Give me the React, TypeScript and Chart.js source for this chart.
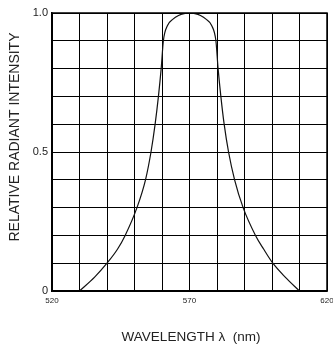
import { useEffect, useRef } from "react";
import { Chart, registerables } from "chart.js";

Chart.register(...registerables);

// Spectral response curve: wavelength (nm) vs relative radiant intensity
const wavelengthNm = [
  530, 535.5, 540, 543.8, 546.6, 550.9, 554.0, 556.0, 557.5, 558.7, 559.7, 560.5,
  562, 564, 566, 568, 570, 572, 574, 576, 578,
  579.6, 580.4, 581.4, 582.6, 584.2, 586.4, 589.5, 594.0, 597.0, 600.3, 604.8, 610,
];
const relativeIntensity = [
  0, 0.05, 0.1, 0.15, 0.2, 0.3, 0.4, 0.5, 0.6, 0.7, 0.8, 0.9,
  0.955, 0.978, 0.991, 0.998, 1.0, 0.998, 0.991, 0.978, 0.956,
  0.9, 0.8, 0.7, 0.6, 0.5, 0.4, 0.3, 0.2, 0.15, 0.1, 0.05, 0,
];

const xLabelled = [520, 570, 620];
const yLabelled = [
  { v: 0, text: "0" },
  { v: 0.5, text: "0.5" },
  { v: 1, text: "1.0" },
];

const yTitle = "RELATIVE RADIANT INTENSITY";
const xTitle = "WAVELENGTH \u03bb  (nm)";

const FONT = "Arial, 'Liberation Sans', Helvetica, sans-serif";
const INK = "#222";

const titlesPlugin = {
  id: "axisTitles",
  afterDraw(chart: any) {
    const { ctx, chartArea } = chart;
    ctx.save();
    // frame around the plot
    ctx.strokeStyle = "#000";
    ctx.lineWidth = 1.5;
    ctx.strokeRect(chartArea.left, chartArea.top, chartArea.right - chartArea.left, chartArea.bottom - chartArea.top);

    ctx.fillStyle = INK;
    ctx.font = `14px ${FONT}`;
    ctx.textAlign = "center";
    ctx.textBaseline = "middle";
    ctx.save();
    ctx.translate(15, 137);
    ctx.rotate(-Math.PI / 2);
    ctx.fillText(yTitle, 0, 0);
    ctx.restore();
    ctx.font = `13.5px ${FONT}`;
    ctx.fillText(xTitle, 191, 337);
    ctx.restore();
  },
};

export default function App() {
  const canvasRef = useRef<HTMLCanvasElement | null>(null);

  useEffect(() => {
    const canvas = canvasRef.current;
    if (!canvas) return;
    const chart = new Chart(canvas, {
      type: "line",
      data: {
        datasets: [
          {
            data: wavelengthNm.map((x, i) => ({ x, y: relativeIntensity[i] })),
            borderColor: "#111",
            borderWidth: 1.2,
            pointRadius: 0,
            fill: false,
            cubicInterpolationMode: "monotone",
          },
        ],
      },
      options: {
        animation: false,
        responsive: false,
        devicePixelRatio: 1,
        layout: { padding: { left: 0, right: 6, top: 13, bottom: 0 } },
        plugins: { legend: { display: false }, tooltip: { enabled: false } },
        scales: {
          x: {
            type: "linear",
            min: 520,
            max: 620,
            grid: { color: "#000", lineWidth: 1, drawTicks: false },
            border: { display: true, color: "#000", width: 1.5 },
            ticks: {
              stepSize: 10,
              autoSkip: false,
              maxRotation: 0,
              padding: 5,
              color: INK,
              font: { family: FONT, size: 8 },
              callback: (v: any) => (xLabelled.includes(Math.round(Number(v))) ? String(Math.round(Number(v))) : ""),
            },
            afterFit: (scale: any) => {
              scale.height = 56;
              scale.paddingLeft = 0;
              scale.paddingRight = 0;
            },
          },
          y: {
            type: "linear",
            min: 0,
            max: 1,
            grid: { color: "#000", lineWidth: 1, drawTicks: false },
            border: { display: true, color: "#000", width: 1.5 },
            ticks: {
              stepSize: 0.1,
              autoSkip: false,
              padding: 4,
              color: INK,
              font: { family: FONT, size: 11 },
              callback: (v: any) => {
                const hit = yLabelled.find((t) => Math.abs(t.v - Number(v)) < 1e-6);
                return hit ? hit.text : "";
              },
            },
            afterFit: (scale: any) => {
              scale.width = 52;
              scale.paddingTop = 0;
              scale.paddingBottom = 0;
            },
          },
        },
      },
      plugins: [titlesPlugin],
    } as any);
    return () => chart.destroy();
  }, []);

  return (
    <div style={{ position: "fixed", left: 0, top: 0, width: 333, height: 347, background: "#fff" }}>
      <canvas ref={canvasRef} width={333} height={347} style={{ display: "block" }} />
    </div>
  );
}
